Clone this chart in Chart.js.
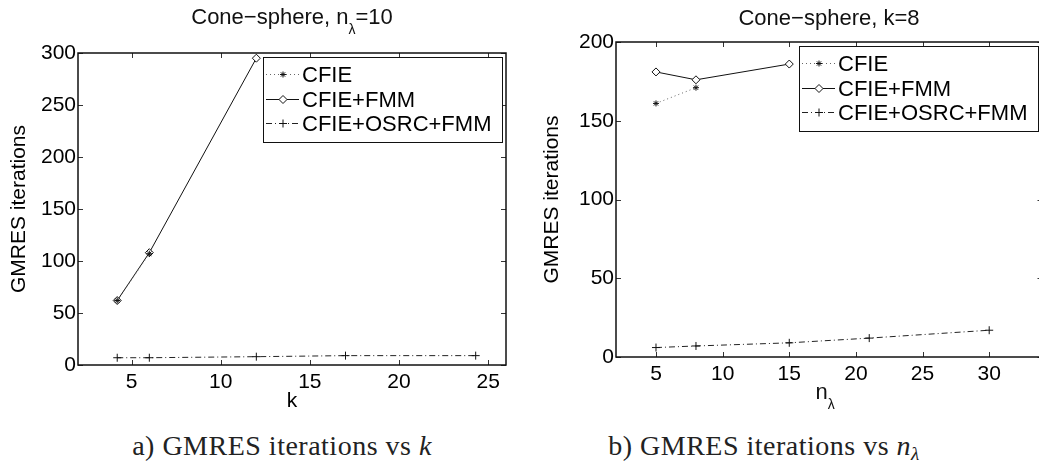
<!DOCTYPE html>
<html>
<head>
<meta charset="utf-8">
<script src="https://cdn.jsdelivr.net/npm/chart.js@4.4.1/dist/chart.umd.min.js"></script>
<style>
html, body { margin: 0; padding: 0; background: #fff; }
#wrap { position: relative; width: 1039px; height: 465px; overflow: hidden; }
canvas { position: absolute; top: 0; }
.ttl { position: absolute; font: 22px "Liberation Sans", Arial, sans-serif; line-height: 24px; color: #111; white-space: nowrap; transform: translateX(-50%); }
.ttl sub { font-size: 14px; vertical-align: -10px; line-height: 0; }
.cap { position: absolute; font: 28px "Liberation Serif", serif; letter-spacing: 0.5px; line-height: 30px; color: #222; white-space: nowrap; transform: translateX(-50%); }
.cap sub { font-size: 19px; vertical-align: -5px; line-height: 0; }
</style>
</head>
<body>
<div id="wrap">
  <canvas id="chartA" width="520" height="420" style="left:0"></canvas>
  <canvas id="chartB" width="545" height="420" style="left:520px"></canvas>
  <div class="ttl" style="left:292px; top:5px">Cone−sphere, n<sub>λ</sub>=10</div>
  <div class="ttl" style="left:829px; top:6px">Cone−sphere, k=8</div>
  <div class="ttl" style="left:825px; top:380px">n<sub>λ</sub></div>
  <div class="cap" style="left:282px; top:431px">a) GMRES iterations vs <i>k</i></div>
  <div class="cap" style="left:764px; top:431px">b) GMRES iterations vs <i>n</i><sub><i>λ</i></sub></div>
</div>
<script>
// panel a: GMRES iterations vs k (n_lambda = 10)
const kCfie = [4.2, 6];
const itCfieA = [62, 107];
const kFmm = [4.2, 6, 12];
const itFmmA = [62, 108, 295];
const kOsrc = [4.2, 6, 12, 17, 24.3];
const itOsrcA = [7, 7, 8, 9, 9];
const kTicks = [5, 10, 15, 20, 25];
const itTicksA = [0, 50, 100, 150, 200, 250, 300];

// panel b: GMRES iterations vs n_lambda (k = 8)
const nCfie = [5, 8];
const itCfieB = [161, 171];
const nFmm = [5, 8, 15];
const itFmmB = [181, 176, 186];
const nOsrc = [5, 8, 15, 21, 30];
const itOsrcB = [6, 7, 9, 12, 17];
const nTicks = [5, 10, 15, 20, 25, 30];
const itTicksB = [0, 50, 100, 150, 200];

const seriesNames = ['CFIE', 'CFIE+FMM', 'CFIE+OSRC+FMM'];

const FONT = '"Liberation Sans", Arial, sans-serif';

function pts(xs, ys) {
    return xs.map((x, i) => ({ x: x, y: ys[i] }));
}

function makeDatasets(cfie, fmm, osrc) {
    return [
        {
            label: seriesNames[0],
            data: cfie,
            showLine: true,
            borderColor: '#666',
            borderWidth: 1,
            borderDash: [1, 3],
            pointStyle: 'star',
            pointRadius: 3,
            pointBorderColor: '#111',
            pointBackgroundColor: '#111',
            pointBorderWidth: 1
        },
        {
            label: seriesNames[1],
            data: fmm,
            showLine: true,
            borderColor: '#111',
            borderWidth: 1,
            pointStyle: 'rectRot',
            pointRadius: 4,
            pointBorderColor: '#111',
            pointBackgroundColor: '#fff',
            pointBorderWidth: 1
        },
        {
            label: seriesNames[2],
            data: osrc,
            showLine: true,
            borderColor: '#222',
            borderWidth: 1,
            borderDash: [6, 3, 1, 3],
            pointStyle: 'cross',
            pointRadius: 4,
            pointBorderColor: '#111',
            pointBackgroundColor: '#111',
            pointBorderWidth: 1
        }
    ];
}

// matlab-like box with inward ticks on all four sides
const boxTicks = {
    id: 'boxTicks',
    afterDatasetsDraw(chart) {
        const { ctx, chartArea: a, scales: { x, y } } = chart;
        const len = 5;
        ctx.save();
        ctx.strokeStyle = '#333';
        ctx.lineWidth = 1;
        ctx.beginPath();
        x.ticks.forEach(t => {
            const px = Math.round(x.getPixelForValue(t.value)) + 0.5;
            ctx.moveTo(px, a.bottom); ctx.lineTo(px, a.bottom - len);
            ctx.moveTo(px, a.top); ctx.lineTo(px, a.top + len);
        });
        y.ticks.forEach(t => {
            const py = Math.round(y.getPixelForValue(t.value)) + 0.5;
            ctx.moveTo(a.left, py); ctx.lineTo(a.left + len, py);
            ctx.moveTo(a.right, py); ctx.lineTo(a.right - len, py);
        });
        ctx.stroke();
        ctx.strokeStyle = '#111';
        ctx.lineWidth = 1.5;
        ctx.strokeRect(a.left, a.top, a.right - a.left, a.bottom - a.top);
        ctx.restore();
    }
};

// boxed legend with line sample + marker
const boxLegend = {
    id: 'boxLegend',
    afterDraw(chart) {
        const { ctx, chartArea: a } = chart;
        const w = 239, h = 85;
        const left = Math.round(a.right - 4.5 - w), top = Math.round(a.top + 4);
        ctx.save();
        ctx.fillStyle = '#fff';
        ctx.fillRect(left, top, w, h);
        ctx.strokeStyle = '#111';
        ctx.lineWidth = 1;
        ctx.strokeRect(left + 0.5, top + 0.5, w, h);
        chart.data.datasets.forEach((ds, i) => {
            const yy = Math.round(top + 17 + i * 24.5) + 0.5;
            ctx.strokeStyle = ds.borderColor;
            ctx.lineWidth = ds.borderWidth;
            ctx.setLineDash(ds.borderDash || []);
            ctx.beginPath();
            ctx.moveTo(left + 3, yy);
            ctx.lineTo(left + 36, yy);
            ctx.stroke();
            ctx.setLineDash([]);
            ctx.fillStyle = ds.pointBackgroundColor;
            ctx.strokeStyle = ds.pointBorderColor;
            Chart.helpers.drawPoint(ctx, { pointStyle: ds.pointStyle, radius: ds.pointRadius, rotation: 0, borderWidth: 1 }, left + 20, yy);
            ctx.fillStyle = '#000';
            ctx.font = '22px ' + FONT;
            ctx.textBaseline = 'middle';
            ctx.fillText(ds.label, left + 39, yy + 1);
        });
        ctx.restore();
    }
};

function makeOptions(cfg) {
    return {
        responsive: false,
        animation: false,
        layout: { padding: { left: 0, top: cfg.top, right: cfg.right, bottom: 0 } },
        plugins: { legend: { display: false }, tooltip: { enabled: false } },
        scales: {
            x: {
                type: 'linear',
                min: cfg.xMin,
                max: cfg.xMax,
                border: { display: false },
                grid: { display: false, drawTicks: false },
                afterBuildTicks: s => { s.ticks = cfg.xTicks.map(v => ({ value: v })); },
                afterFit: s => { s.height = cfg.xHeight; },
                ticks: { color: '#000', padding: 5, font: { family: FONT, size: 21 } },
                title: cfg.xTitle ? { display: true, text: cfg.xTitle, color: '#000', padding: { top: 0, bottom: cfg.xTitlePad }, font: { family: FONT, size: 21 } } : { display: false }
            },
            y: {
                min: cfg.yMin,
                max: cfg.yMax,
                border: { display: false },
                grid: { display: false, drawTicks: false },
                afterBuildTicks: s => { s.ticks = cfg.yTicks.map(v => ({ value: v })); },
                afterFit: s => { s.width = cfg.yWidth; },
                ticks: { color: '#000', padding: 2, font: { family: FONT, size: 21 } },
                title: { display: true, text: 'GMRES iterations', color: '#000', padding: { top: cfg.yTitlePad, bottom: 0 }, font: { family: FONT, size: 21 } }
            }
        }
    };
}

new Chart(document.getElementById('chartA'), {
    type: 'scatter',
    data: { datasets: makeDatasets(pts(kCfie, itCfieA), pts(kFmm, itFmmA), pts(kOsrc, itOsrcA)) },
    options: makeOptions({
        top: 53, right: 14, xMin: 2, xMax: 26, yMin: 0, yMax: 300,
        xTicks: kTicks, yTicks: itTicksA, xHeight: 55, yWidth: 78,
        xTitle: 'k', xTitlePad: 6, yTitlePad: 7
    }),
    plugins: [boxTicks, boxLegend]
});

new Chart(document.getElementById('chartB'), {
    type: 'scatter',
    data: { datasets: makeDatasets(pts(nCfie, itCfieB), pts(nFmm, itFmmB), pts(nOsrc, itOsrcB)) },
    options: makeOptions({
        top: 42, right: 22.5, xMin: 2, xMax: 34, yMin: 0, yMax: 200,
        xTicks: nTicks, yTicks: itTicksB, xHeight: 63, yWidth: 96,
        xTitle: null, xTitlePad: 0, yTitlePad: 20
    }),
    plugins: [boxTicks, boxLegend]
});
</script>
</body>
</html>
